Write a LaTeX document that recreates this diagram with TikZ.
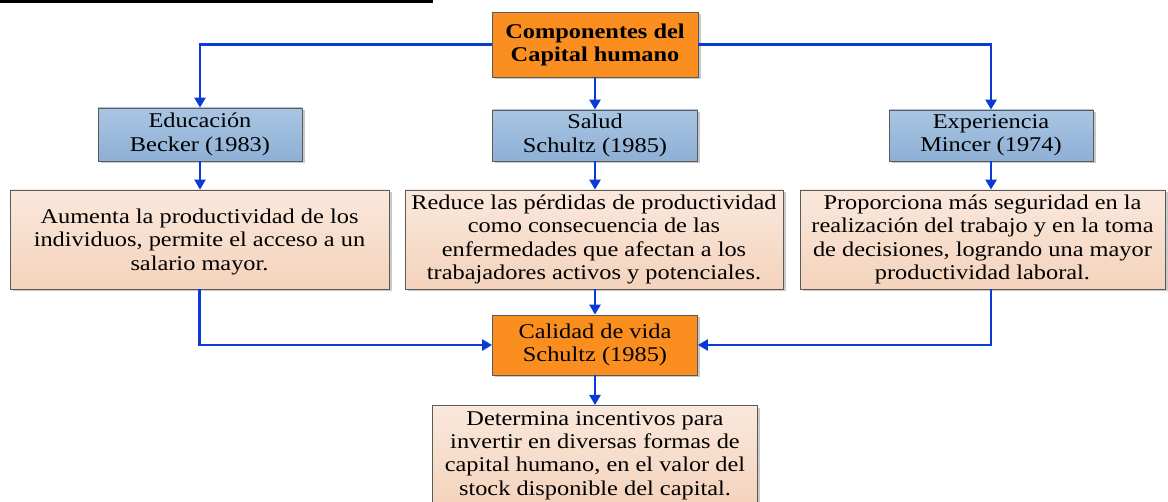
\documentclass[tikz,border=0pt]{standalone}
\usepackage{fontspec}
\setmainfont[FakeStretch=1.16]{Liberation Serif}
\usetikzlibrary{shadows,arrows.meta}
\definecolor{arrblue}{HTML}{0A3BD6}
\definecolor{orangefill}{HTML}{FA8F20}
\definecolor{bluetop}{HTML}{A9C5E2}
\definecolor{bluebot}{HTML}{8EB0D5}
\definecolor{peachtop}{HTML}{FAE8DC}
\definecolor{peachbot}{HTML}{F4D3BC}
\definecolor{boxline}{HTML}{5A5A5A}
\tikzset{
  x=1pt,y=-1pt,
  basebox/.style={draw=boxline, line width=0.8pt, inner sep=0pt, align=center,
    drop shadow={shadow xshift=2.5pt, shadow yshift=-2.5pt, fill=black!30, opacity=0.7}},
  orangebox/.style={basebox, fill=orangefill},
  bluebox/.style={basebox, top color=bluetop, bottom color=bluebot},
  peachbox/.style={basebox, top color=peachtop, bottom color=peachbot},
  arr/.style={draw=arrblue, line width=2.6pt, -{Triangle[length=10pt,width=11pt]}},
  txt/.style={font=\fontsize{21}{23.3}\selectfont},
}
\begin{document}
\begin{tikzpicture}
\useasboundingbox (0,0) rectangle (1168,502);
\fill[black] (0,0) rectangle (433,3.5);
% nodes
\node[orangebox, minimum width=206pt, minimum height=65pt, font=\bfseries\fontsize{21}{23}\selectfont] (top) at (595,44.5) {Componentes del\\Capital humano};
\node[bluebox, txt, minimum width=204pt, minimum height=53pt] (edu) at (200,134.5) {Educación\\Becker (1983)};
\node[bluebox, txt, minimum width=205pt, minimum height=51pt] (sal) at (595,135.5) {Salud\\Schultz (1985)};
\node[bluebox, txt, minimum width=204pt, minimum height=51pt] (exp) at (991,135.5) {Experiencia\\Mincer (1974)};
\node[peachbox, txt, minimum width=379pt, minimum height=99pt, text depth=0pt] (p1) at (199.5,239.5) {Aumenta la productividad de los\\individuos, permite el acceso a un\\salario mayor.};
\node[peachbox, txt, minimum width=378pt, minimum height=99pt] (p2) at (594,239.5) {Reduce las pérdidas de productividad\\como consecuencia de las\\enfermedades que afectan a los\\trabajadores activos y potenciales.};
\node[peachbox, txt, minimum width=365pt, minimum height=99pt] (p3) at (982.5,239.5) {Proporciona más seguridad en la\\realización del trabajo y en la toma\\de decisiones, logrando una mayor\\productividad laboral.};
\node[orangebox, txt, minimum width=205pt, minimum height=60pt] (cal) at (595,345) {Calidad de vida\\Schultz (1985)};
\node[peachbox, txt, minimum width=325pt, minimum height=100pt, anchor=north] (det) at (595,405) {Determina incentivos para\\invertir en diversas formas de\\capital humano, en el valor del\\stock disponible del capital.};
% connectors
\draw[arr] (top.west) -| (edu.north);
\draw[arr] (top.east) -| (exp.north);
\draw[arr] (top.south) -- (sal.north);
\draw[arr] (edu.south) -- (edu.south |- p1.north);
\draw[arr] (sal.south) -- (sal.south |- p2.north);
\draw[arr] (exp.south) -- (exp.south |- p3.north);
\draw[arr] (p1.south) |- (cal.west);
\draw[arr] (p3.south -| exp.south) |- (cal.east);
\draw[arr] (p2.south -| cal.north) -- (cal.north);
\draw[arr] (cal.south) -- (det.north);
\end{tikzpicture}
\end{document}
